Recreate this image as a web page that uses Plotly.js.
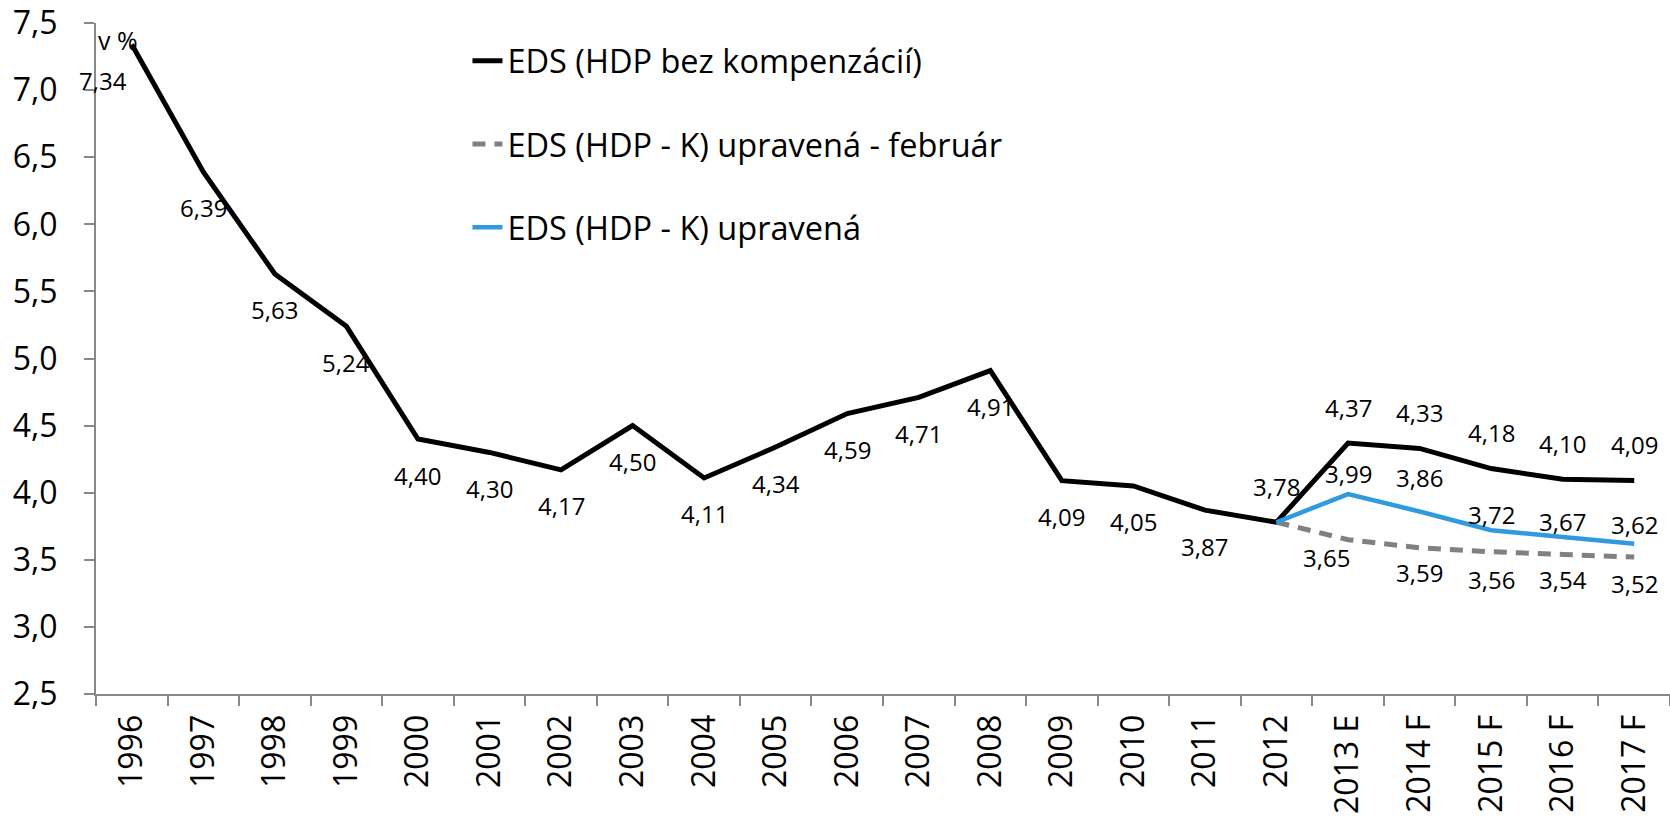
<!DOCTYPE html>
<html>
<head>
<meta charset="utf-8">
<script src="https://cdn.plot.ly/plotly-3.0.1.min.js"></script>
<style>html,body{margin:0;padding:0;background:#fff;}</style>
</head>
<body>
<div id="chart" style="width:1670px;height:819px;"></div>
<script>
const categories = ["1996","1997","1998","1999","2000","2001","2002","2003","2004","2005","2006","2007","2008","2009","2010","2011","2012","2013 E","2014 F","2015 F","2016 F","2017 F"];
const edsBezKomp = [7.34,6.39,5.63,5.24,4.40,4.30,4.17,4.50,4.11,4.34,4.59,4.71,4.91,4.09,4.05,3.87,3.78,4.37,4.33,4.18,4.10,4.09];
const forecastCats = ["2012","2013 E","2014 F","2015 F","2016 F","2017 F"];
const edsUpravenaFeb = [3.78,3.65,3.59,3.56,3.54,3.52];
const edsUpravena = [3.78,3.99,3.86,3.72,3.67,3.62];
const seriesNames = ["EDS (HDP bez kompenzácií)","EDS (HDP - K) upravená - február","EDS (HDP - K) upravená"];

const FONT = "Open Sans, Noto Sans, sans-serif";
const fmt = v => v.toFixed(2).replace('.', ',');
const catIndex = c => categories.indexOf(c);

// label placement styling (pixel offsets of data labels, mimicking the original layout)
const blueLabelShift = [0, 21, 34, 16, 15, 19];
const greyLabelShift = [0, -18, -25, -28, -25, -26];

const traces = [
  {x: categories, y: edsBezKomp, name: seriesNames[0], mode: 'lines', legendgroup: 'a',
   line: {color: '#000000', width: 5}},
  {x: forecastCats, y: edsUpravenaFeb, name: seriesNames[1], mode: 'lines', legendgroup: 'b',
   line: {color: '#808080', width: 5, dash: '13px,9px'}},
  {x: forecastCats, y: edsUpravena, name: seriesNames[2], mode: 'lines', legendgroup: 'c',
   line: {color: '#2f9ae0', width: 4.5}}
];

const annotations = [];
const lblFont = {family: FONT, size: 24, color: '#000'};
const idx2012 = catIndex("2012");
edsBezKomp.forEach((v, i) => {
  const above = i >= idx2012;
  annotations.push({x: i, y: v, xref: 'x', yref: 'y', text: fmt(v), showarrow: false,
    font: lblFont, yshift: above ? 36 : -36, xshift: i === 0 ? -29 : 0});
});
edsUpravena.forEach((v, i) => {
  if (i === 0) return;
  annotations.push({x: catIndex(forecastCats[i]), y: v, xref: 'x', yref: 'y', text: fmt(v), showarrow: false,
    font: lblFont, yshift: blueLabelShift[i]});
});
edsUpravenaFeb.forEach((v, i) => {
  if (i === 0) return;
  annotations.push({x: catIndex(forecastCats[i]), y: v, xref: 'x', yref: 'y', text: fmt(v), showarrow: false,
    font: lblFont, yshift: greyLabelShift[i], xshift: i === 1 ? -22 : 0});
});
annotations.push({xref: 'paper', yref: 'paper', x: 0.0, y: 0.975, xanchor: 'left', yanchor: 'middle',
  text: 'v %', showarrow: false, font: {family: FONT, size: 25, color: '#000'}});

const layout = {
  width: 1670, height: 819,
  margin: {l: 96, r: 0, t: 23, b: 125},
  paper_bgcolor: '#fff', plot_bgcolor: '#fff',
  separators: ', ',
  font: {family: FONT, color: '#000'},
  showlegend: true,
  legend: {x: 0.236, y: 0.985, xanchor: 'left', yanchor: 'top', bgcolor: 'rgba(0,0,0,0)',
    font: {family: FONT, size: 32.5, color: '#000'}, tracegroupgap: 38, traceorder: 'grouped'},
  xaxis: {type: 'category', categoryorder: 'array', categoryarray: categories,
    range: [-0.5, categories.length - 0.5], tickangle: -90, tickson: 'boundaries',
    ticks: 'outside', ticklen: 10, tickcolor: '#888', tickwidth: 2,
    showline: true, linecolor: '#888', linewidth: 2, showgrid: false, zeroline: false,
    tickfont: {family: FONT, size: 32, color: '#000'}, ticklabelstandoff: 6},
  yaxis: {range: [2.5, 7.5], dtick: 0.5, tick0: 2.5, tickformat: '.1f',
    ticks: 'outside', ticklen: 10, tickcolor: '#888', tickwidth: 2,
    showline: true, linecolor: '#888', linewidth: 2, showgrid: false, zeroline: false,
    tickfont: {family: FONT, size: 32, color: '#000'}, ticklabelstandoff: 20},
  annotations: annotations
};

Plotly.newPlot('chart', traces, layout, {displayModeBar: false, staticPlot: true});
</script>
</body>
</html>
